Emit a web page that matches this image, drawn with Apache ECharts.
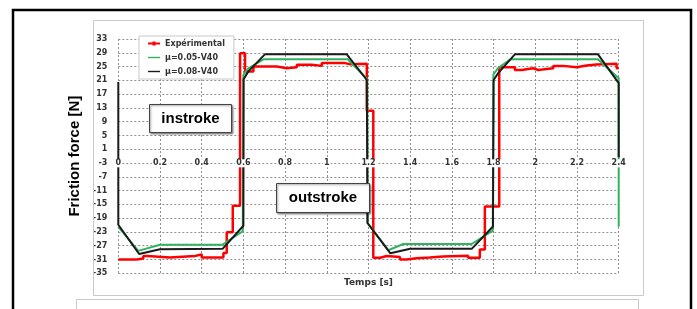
<!DOCTYPE html>
<html>
<head>
<meta charset="utf-8">
<script src="https://cdn.jsdelivr.net/npm/echarts@6/dist/echarts.min.js"></script>
<style>
  body { margin: 0; background: #fff; }
  #chart { width: 697px; height: 309px; }
</style>
</head>
<body>
<div id="chart"></div>
<script>
// experimental curve (stepped), time [s] / force [N]
var expTime = [0, 0.088, 0.12, 0.139, 0.248, 0.368, 0.40, 0.504, 0.52, 0.549,
  0.584, 0.608, 0.648, 0.76, 0.808, 0.856, 0.928, 0.976, 1.088, 1.112,
  1.192, 1.223, 1.256, 1.287, 1.351, 1.383, 1.43, 1.494, 1.557, 1.678,
  1.734, 1.758, 1.827, 1.902, 1.934, 1.99, 2.014, 2.086, 2.134, 2.198,
  2.246, 2.294, 2.39, 2.4];
var expForce = [-31.0, -30.7, -30.0, -30.4, -30.0, -29.5, -30.4, -29.1, -23.1, -15.4,
  28.9, 23.6, 25.0, 24.5, 24.8, 25.5, 25.2, 26.0, 25.7, 25.8,
  12.2, -30.5, -30.0, -30.3, -31.0, -30.6, -30.4, -30.1, -29.9, -30.5,
  -28.1, -15.6, 24.8, 24.0, 24.5, 24.0, 24.5, 25.2, 24.8, 25.3,
  25.6, 25.8, 24.5, 24.5];

// model mu=0.05
var mu05Time = [0, 0.096, 0.2, 0.5, 0.597, 0.6, 0.624, 0.696, 1.1, 1.194,
  1.196, 1.295, 1.367, 1.695, 1.796, 1.799, 1.822, 1.88, 2.3, 2.4, 2.4];
var mu05Force = [-21.5, -28.5, -26.7, -26.7, -22.8, 22.6, 24.5, 27.1, 27.1, 21.4,
  -20.4, -28.3, -26.5, -26.5, -22.6, 22.7, 24.6, 27.1, 27.1, 21.6, -21.5];

// model mu=0.08
var mu08Time = [0, 0, 0.1, 0.2, 0.5, 0.6, 0.601, 0.624, 0.704, 1.095, 1.192,
  1.195, 1.305, 1.4, 1.695, 1.797, 1.8, 1.822, 1.903, 2.3, 2.4, 2.4];
var mu08Force = [20.5, -20.9, -29.4, -28.0, -27.9, -21.2, 21.3, 23.6, 28.6, 28.6, 21.1,
  -20.4, -29.2, -27.9, -27.9, -21.4, 21.1, 23.1, 28.6, 28.6, 20.2, -1.3];

var seriesNames = ['Expérimental', 'μ=0.05-V40', 'μ=0.08-V40'];

function pairs(t, v) {
  var out = [];
  for (var i = 0; i < t.length; i++) out.push([t[i], v[i]]);
  return out;
}

// legend icons: plain line, and line with small square marker
var lineIcon = 'path://M0,0 M12,9 M0,3.8 L12,3.8 L12,5.2 L0,5.2 Z';
var markIcon = 'path://M0,0 M12,9 M0,3.6 L12,3.6 L12,5.4 L0,5.4 Z M4.5,2.5 L7.5,2.5 L7.5,6.5 L4.5,6.5 Z';

var tickFont = { fontFamily: 'DejaVu Sans', fontWeight: 'bold', fontSize: 8, color: '#333' };

var chart = echarts.init(document.getElementById('chart'));
var option = {
  animation: false,
  grid: { left: 118.3, right: 78.3, top: 39, bottom: 35.7 },
  legend: {
    orient: 'vertical', left: 139, top: 36,
    backgroundColor: '#fff', borderColor: '#c8c8c8', borderWidth: 1,
    padding: [3, 9, 3, 9], itemWidth: 12, itemHeight: 9, itemGap: 5,
    textStyle: tickFont,
    data: [
      { name: seriesNames[0], icon: markIcon },
      { name: seriesNames[1], icon: lineIcon },
      { name: seriesNames[2], icon: lineIcon }
    ]
  },
  xAxis: [
    {
      type: 'value', min: 0, max: 2.4, interval: 0.2, position: 'bottom',
      name: 'Temps [s]', nameLocation: 'middle', nameGap: 5,
      nameTextStyle: { fontFamily: 'DejaVu Sans', fontWeight: 'bold', fontSize: 9, color: '#333', verticalAlign: 'top' },
      axisLine: { show: false }, axisTick: { show: false }, axisLabel: { show: false },
      splitLine: { show: true, lineStyle: { color: '#909090', type: [2, 2], width: 1 } }
    },
    {
      type: 'value', min: 0, max: 2.4, interval: 0.2, position: 'bottom', z: 20,
      axisLine: { show: false }, axisTick: { show: false }, splitLine: { show: false },
      axisLabel: Object.assign({ margin: -110, verticalAlign: 'middle', backgroundColor: '#fff', padding: [0, 1] }, tickFont)
    }
  ],
  yAxis: {
    type: 'value', min: -35, max: 33, interval: 4,
    name: 'Friction force [N]', nameLocation: 'middle', nameGap: 30, nameRotate: 90,
    nameTextStyle: { fontFamily: 'Liberation Sans', fontWeight: 'bold', fontSize: 15, color: '#000' },
    axisLine: { show: false }, axisTick: { show: false },
    axisLabel: Object.assign({ margin: 11 }, tickFont),
    splitLine: { show: true, lineStyle: { color: '#909090', type: [2, 2], width: 1 } }
  },
  series: [
    {
      name: seriesNames[0], type: 'line', step: 'end', data: pairs(expTime, expForce),
      symbol: 'none',
      lineStyle: { color: '#ff0000', width: 2.5 }, itemStyle: { color: '#ff0000' }
    },
    {
      name: seriesNames[1], type: 'line', data: pairs(mu05Time, mu05Force),
      symbol: 'none', lineStyle: { color: '#2fb35f', width: 2 }, itemStyle: { color: '#2fb35f' }
    },
    {
      name: seriesNames[2], type: 'line', data: pairs(mu08Time, mu08Force),
      symbol: 'none', lineStyle: { color: '#1a1a1a', width: 2 }, itemStyle: { color: '#1a1a1a' }
    }
  ],
  graphic: [
    { type: 'rect', z: 1, shape: { x: 13, y: 10, width: 678, height: 330 },
      style: { fill: 'none', stroke: '#000', lineWidth: 2.5 } },
    { type: 'rect', z: 1, shape: { x: 93.5, y: 20.5, width: 550, height: 275 },
      style: { fill: 'none', stroke: '#c8c8c8', lineWidth: 1 } },
    { type: 'rect', z: 1, shape: { x: 76.5, y: 299.5, width: 562, height: 40 },
      style: { fill: 'none', stroke: '#c8c8c8', lineWidth: 1 } },
    { type: 'rect', z: 30, shape: { x: 149.5, y: 104.5, width: 82, height: 28 },
      style: { fill: '#fff', stroke: '#444', lineWidth: 1, shadowBlur: 2, shadowOffsetX: 1, shadowOffsetY: 1, shadowColor: 'rgba(0,0,0,0.45)' } },
    { type: 'text', z: 31, x: 190.5, y: 118.5,
      style: { text: 'instroke', font: 'bold 15px "Liberation Sans"', fill: '#000', align: 'center', verticalAlign: 'middle' } },
    { type: 'rect', z: 30, shape: { x: 276.5, y: 183.5, width: 93, height: 29 },
      style: { fill: '#fff', stroke: '#444', lineWidth: 1, shadowBlur: 2, shadowOffsetX: 1, shadowOffsetY: 1, shadowColor: 'rgba(0,0,0,0.45)' } },
    { type: 'text', z: 31, x: 323, y: 198,
      style: { text: 'outstroke', font: 'bold 15px "Liberation Sans"', fill: '#000', align: 'center', verticalAlign: 'middle' } }
  ]
};
chart.setOption(option);
</script>
</body>
</html>
